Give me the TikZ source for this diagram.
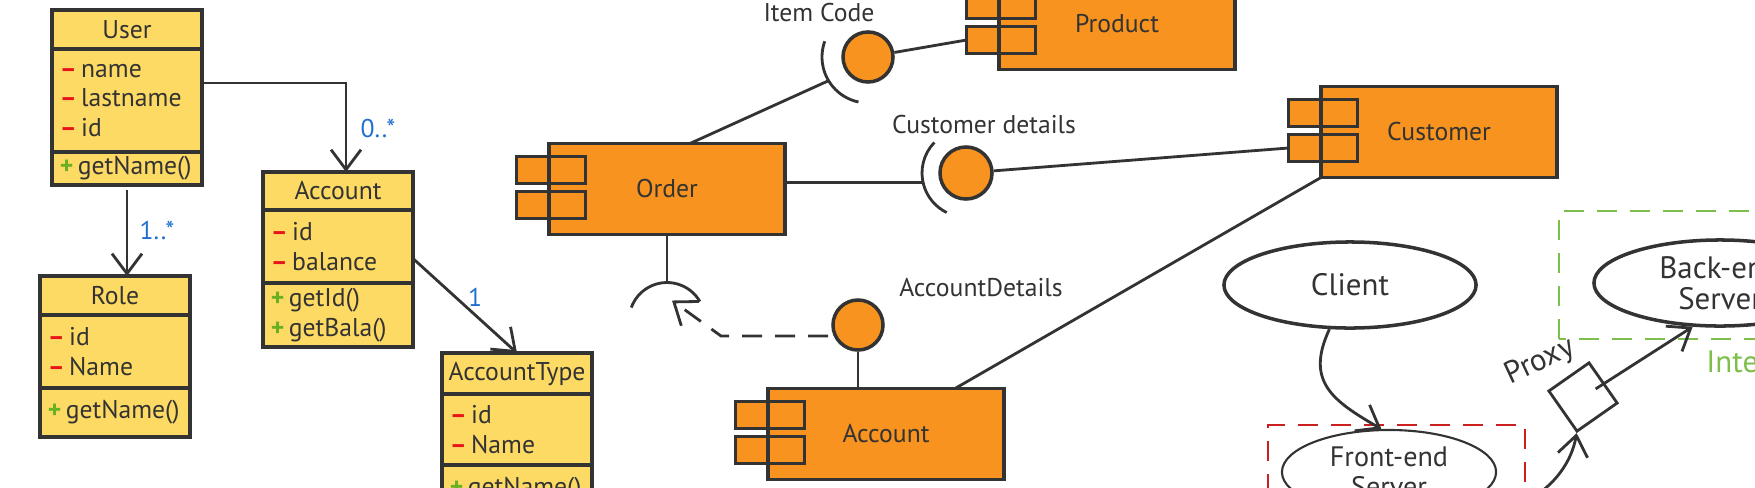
\documentclass[tikz,border=0pt]{standalone}
\usepackage{fontspec}
\setmainfont{PT Sans}
\usetikzlibrary{arrows.meta,positioning,shapes.geometric,calc}

\definecolor{ink}{HTML}{333333}
\definecolor{umlyellow}{HTML}{FDDA63}
\definecolor{comporange}{HTML}{F7931E}
\definecolor{multblue}{HTML}{1F6FCF}
\definecolor{privred}{HTML}{E8141B}
\definecolor{pubgreen}{HTML}{6AB023}
\definecolor{netgreen}{HTML}{7DBF4A}
\definecolor{lanred}{HTML}{CC2020}

\newcommand{\umlpriv}{\textcolor{privred}{\textbf{--}}\,}
\newcommand{\umlpub}{\textcolor{pubgreen}{\textbf{+}}\,}

\tikzset{
  hand/.style    = {font=\fontsize{7.3}{8.3}\selectfont, text=ink},
  handbig/.style = {font=\fontsize{8.8}{8.8}\selectfont, text=ink},
  clshead/.style = {rectangle, draw=ink, fill=umlyellow, line width=1pt, hand,
                    minimum width=1.5cm, text width=1.46cm, align=center,
                    inner xsep=0.02cm, inner ysep=0pt, outer sep=0pt},
  clsbody/.style = {clshead, align=left, text width=1.34cm, inner xsep=0.08cm},
  comp/.style    = {rectangle, draw=ink, fill=comporange, line width=1pt, hand,
                    minimum width=2.36cm, minimum height=0.91cm, outer sep=0pt},
  comptab/.style = {rectangle, draw=ink, fill=comporange, line width=1pt,
                    minimum width=0.69cm, minimum height=0.27cm, inner sep=0pt, outer sep=0pt},
  ball/.style    = {circle, draw=ink, fill=comporange, line width=1pt,
                    minimum size=0.5cm, inner sep=0pt},
  wire/.style    = {draw=ink, line width=0.8pt},
  ar/.style      = {-{Straight Barb[length=2mm, width=3mm]}, wire},
  dar/.style     = {ar, dash pattern=on 2mm off 1.3mm},
  mult/.style    = {hand, text=multblue},
  lbl/.style     = {hand},
  host/.style    = {ellipse, draw=ink, line width=1pt, handbig, align=center, inner sep=0pt},
  zone/.style    = {line width=0.7pt, dash pattern=on 2mm off 1.3mm}
}

\begin{document}
\begin{tikzpicture}[x=0.01cm, y=0.01cm]
  \useasboundingbox (0,0) rectangle (1755,487);
  \clip (0,0) rectangle (1755,487);

  % class diagram
  \node[clshead, minimum height=0.39cm, anchor=north] (user) at (127,477) {User};
  \node[clsbody, minimum height=1.03cm, below=0pt of user] (userattr) {\umlpriv name\\\umlpriv lastname\\\umlpriv id};
  \node[clsbody, minimum height=0.33cm, below=0pt of userattr] (userops) {\umlpub getName()};

  \node[clshead, minimum height=0.38cm, anchor=north] (account) at (338,315) {Account};
  \node[clsbody, minimum height=0.73cm, below=0pt of account] (accountattr) {\umlpriv id\\\umlpriv balance};
  \node[clsbody, minimum height=0.64cm, below=0pt of accountattr] (accountops) {\umlpub getId()\\\umlpub getBala()};

  \node[clshead, minimum height=0.39cm, anchor=north] (role) at (115,211) {Role};
  \node[clsbody, minimum height=0.73cm, below=0pt of role] (roleattr) {\umlpriv id\\\umlpriv Name};
  \node[clsbody, minimum height=0.49cm, below=0pt of roleattr] (roleops) {\umlpub getName()};

  \node[clshead, minimum height=0.41cm, anchor=north] (acctype) at (517,134) {AccountType};
  \node[clsbody, minimum height=0.71cm, below=0pt of acctype] (acctypeattr) {\umlpriv id\\\umlpriv Name};
  \node[clsbody, minimum height=0.49cm, below=0pt of acctypeattr] (acctypeops) {\umlpub getName()};

  \draw[ar] ($(userattr.north east)+(0,-34)$) -| ($(account.north)+(8,0)$);
  \node[mult] (m-acc) at (378,359) {0..*};
  \draw[ar, shorten <=0.05cm] (userops.south) -- (userops.south |- role.north);
  \node[mult] (m-role) at (157,257) {1..*};
  \draw[ar] ($(accountattr.east)+(0,-12)$) -- (acctype.north);
  \node[mult] (m-type) at (475,190) {1};

  % components
  \node[comp] (order) at (667,298) {Order};
  \node[comp] (product) at (1117,463) {Product};
  \node[comp] (customer) at (1439,355) {Customer};
  \node[comp] (accomp) at (886,53) {Account};
  \foreach \cname in {order,product,customer,accomp} {
    \node[comptab, anchor=north] (\cname-t1) at ($(\cname.north west)+(2,-13)$) {};
    \node[comptab, anchor=south] (\cname-t2) at ($(\cname.south west)+(2,16)$) {};
    \draw[ink, line width=1pt] (\cname.north west) -- (\cname.south west);
  }

  % item code
  \node[ball] (itemball) at (868,430) {};
  \node[lbl] (itemlbl) at (819,474) {Item Code};
  \draw[wire] (itemball) -- (product-t2.west);
  \draw[wire] (itemball.center) ++(160:46) arc[start angle=160, end angle=258, radius=46];
  \coordinate (itemsock) at ($(itemball.center)+(211:46)$);
  \draw[wire] ($(order.north)+(23,0)$) -- (itemsock);

  % customer details
  \node[ball, minimum size=0.52cm] (cdball) at (966,314) {};
  \node[lbl] (cdlbl) at (984,362) {Customer details};
  \draw[wire] (cdball.center) ++(136:44) arc[start angle=136, end angle=244, radius=44];
  \coordinate (cdsock) at ($(cdball.center)+(192:45)$);
  \draw[wire] (cdsock -| order.east) -- (cdsock);
  \draw[wire] (cdball) -- (customer-t2.west);

  % account details
  \node[ball] (adball) at (858,162) {};
  \node[lbl] (adlbl) at (981,199) {AccountDetails};
  \draw[wire] (adball) -- (adball.south |- accomp.north);
  \coordinate (ordsock) at ($(order.south)+(0,-86)$);
  \draw[wire] (order.south) -- ($(ordsock)+(0,38)$);
  \draw[wire] (ordsock) ++(30:38) arc[start angle=30, end angle=160, radius=38];
  \coordinate (bend) at (721,151);
  \draw[dar] ($(adball.west)+(-3,-11)$) -- (bend) -- ($(ordsock)+(5,20)$);
  \draw[wire] (customer.south west) -- ($(accomp.north east)+(-49,0)$);

  % deployment
  \node[host, minimum width=2.52cm, minimum height=0.86cm] (client) at (1350,202) {Client};
  \node[host, line width=0.6pt, minimum width=2.14cm, minimum height=0.84cm] (frontend) at (1389,15) {};
  \node[handbig, font=\fontsize{8}{8.6}\selectfont, align=center] (fronttext) at (frontend.center) {Front-end\\Server};
  \coordinate (lan-sw) at (1268,-40);
  \coordinate (lan-ne) at (1525,62);
  \draw[zone, draw=lanred] (lan-sw) rectangle (lan-ne);
  \draw[ar] (client.245) to[out=-115, in=150, looseness=1.3] (frontend.100);

  \node[host, minimum width=2.52cm, minimum height=0.86cm] (backend) at (1720,204) {Back-end\\Server};
  \draw[zone, draw=netgreen] ($(backend.west |- backend.south)+(-33,-11)$) rectangle ($(backend.east |- backend.north)+(33,27)$);
  \node[handbig, text=netgreen, anchor=west] (inet) at (1694,125) {Internet};

  \node[rectangle, draw=ink, line width=0.8pt, minimum size=0.49cm, inner sep=0pt, rotate=35] (proxy) at (1583,90) {};
  \node[handbig, rotate=25] (proxylbl) at (1540,125) {Proxy};
  \draw[ar] (frontend.-30) to[out=-20, in=-100] (proxy.south west);
  \draw[ar, shorten <=0.15cm] (proxy.center) -- (backend.238);
\end{tikzpicture}
\end{document}
